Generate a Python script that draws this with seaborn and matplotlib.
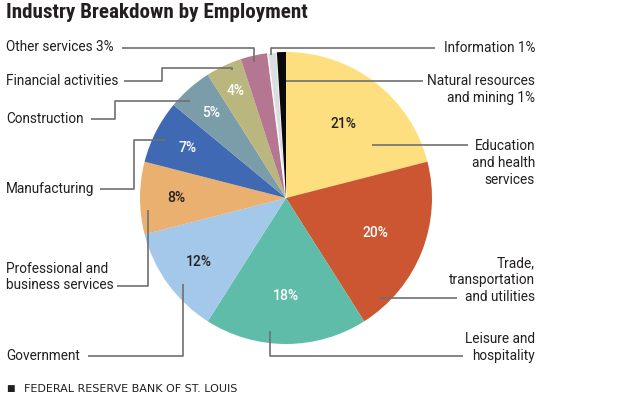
import numpy as np
import matplotlib
matplotlib.use('Agg')
import matplotlib.pyplot as plt
import seaborn as sns

# Shares of employment by industry, clockwise from 12 o'clock
industries = ['Education and health services', 'Trade, transportation and utilities',
              'Leisure and hospitality', 'Government', 'Professional and business services',
              'Manufacturing', 'Construction', 'Financial activities', 'Other services',
              'Information', 'Natural resources and mining']
shares = [21, 20, 18, 12, 8, 7, 5, 4, 3, 1, 1]
slice_colors = ['#fddf80', '#cc5631', '#5fbca8', '#a3c8ea', '#eab06f', '#3f69b3',
                '#7b9daa', '#b9b77d', '#b57692', '#dcdde1', '#0a0a0a']
# which slices get a percentage inside, and its text colour
inner_label = [True, True, True, True, True, True, True, True, False, False, False]
inner_color = ['#231f20', 'white', 'white', '#231f20', '#231f20', 'white', 'white', 'white',
               None, None, None]
inner_dist = [0.64, 0.66, 0.67, 0.74, 0.75, 0.76, 0.78, 0.81, 0, 0, 0]

sns.set_theme(style='white')
plt.rcParams['font.family'] = ['Roboto', 'DejaVu Sans']

TXT = '#231f20'
LINE = '#707070'

fig = plt.figure(figsize=(6.2, 3.99), dpi=100)
ax = fig.add_axes([0, 0, 1, 1])

cx, cy, rad = 286, 198, 146
wedges, _ = ax.pie(shares, colors=slice_colors, startangle=-90, counterclock=True,
                   center=(cx, cy), radius=rad, wedgeprops=dict(linewidth=0))
wedges[9].set_edgecolor('white')
wedges[9].set_linewidth(1.0)

ax.set_xlim(0, 620)
ax.set_ylim(399, 0)
ax.set_aspect('auto')
ax.axis('off')

# percentages inside the pie
for w, v, show, col, d in zip(wedges, shares, inner_label, inner_color, inner_dist):
    if not show:
        continue
    ang = np.deg2rad((w.theta1 + w.theta2) / 2)
    ax.text(cx + d * rad * np.cos(ang), cy + d * rad * np.sin(ang), f'{v}%',
            ha='center', va='center', fontsize=10, color=col, fontweight='medium')

# leader lines (pixel coordinates)
leaders = [
    [(254, 62), (254, 48), (122, 48)],
    [(232, 70), (232, 68), (162, 68), (162, 81), (124, 81)],
    [(190, 101), (115, 101), (115, 119), (91, 119)],
    [(166, 140), (134, 140), (134, 189), (100, 189)],
    [(148, 210), (148, 286), (117, 286)],
    [(183, 284), (183, 356), (88, 356)],
    [(271, 55), (271, 48), (435, 48)],
    [(286, 81), (423, 81)],
    [(372, 145), (468, 145)],
    [(379, 298), (457, 298)],
    [(270, 331), (270, 356), (463, 356)],
]
for pts in leaders:
    xs, ys = zip(*pts)
    ax.plot(xs, ys, color=LINE, lw=1.2, solid_capstyle='butt')

fs = 9.8
left_labels = [('Other services 3%', 47), ('Financial activities', 81), ('Construction', 119),
               ('Manufacturing', 189), ('Professional and\nbusiness services', 277),
               ('Government', 356)]
for s, y in left_labels:
    ax.text(6, y, s, ha='left', va='center', fontsize=fs, color=TXT, linespacing=1.25)

right_labels = [('Information 1%', 48), ('Natural resources\nand mining 1%', 89.5),
                ('Education\nand health\nservices', 163),
                ('Trade,\ntransportation\nand utilities', 280),
                ('Leisure and\nhospitality', 347.5)]
for s, y in right_labels:
    ax.text(535, y, s, ha='right', va='center', fontsize=fs, color=TXT,
            multialignment='right', linespacing=1.25)

ax.text(6, 13, 'Industry Breakdown by Employment', ha='left', va='center',
        fontsize=15.2, fontweight='bold', color=TXT,
        family=['Liberation Sans Narrow', 'Roboto Condensed', 'Roboto'])

ax.text(6.5, 388.5, '\u25a0', ha='left', va='center', fontsize=6.5, color=TXT,
        family='DejaVu Sans')
ax.text(24, 388.5, 'FEDERAL RESERVE BANK OF ST. LOUIS', ha='left', va='center',
        fontsize=8, color=TXT, family='DejaVu Sans')

fig.savefig('out.png', dpi=100)
